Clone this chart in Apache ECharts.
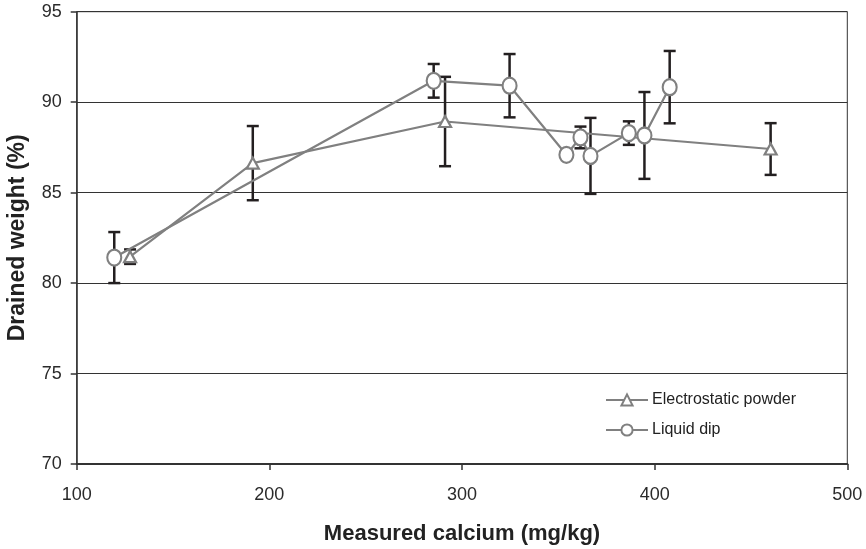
<!DOCTYPE html>
<html>
<head>
<meta charset="utf-8">
<script src="https://cdn.jsdelivr.net/npm/echarts@6/dist/echarts.min.js"></script>
<style>html,body{margin:0;padding:0;background:#fff}#c{width:866px;height:549px}</style>
</head>
<body>
<div id="c"></div>
<script>
// Electrostatic powder
var elecX = [127.7, 191.4, 291.2, 460.2];
var elecY = [81.46, 86.63, 88.93, 87.41];
var elecErr = [0.4, 2.05, 2.47, 1.43];
// Liquid dip
var liqX = [119.5, 285.3, 324.7, 354.2, 361.5, 366.7, 386.6, 394.7, 407.8];
var liqY = [81.41, 91.18, 90.91, 87.09, 88.05, 87.03, 88.29, 88.16, 90.83];
var liqErr = [1.41, 0.93, 1.75, 0, 0.6, 2.1, 0.65, 2.4, 2.0];

var seriesNames = ['Electrostatic powder', 'Liquid dip'];
var xTitle = 'Measured calcium (mg/kg)';
var yTitle = 'Drained weight (%)';

function pairs(xs, ys) { return xs.map(function (x, i) { return [x, ys[i]]; }); }
function errData(xs, ys, es) {
  var out = [];
  xs.forEach(function (x, i) { if (es[i] > 0) out.push([x, ys[i] - es[i], ys[i] + es[i]]); });
  return out;
}
function renderErr(params, api) {
  var x = api.value(0);
  var lo = api.coord([x, api.value(1)]);
  var hi = api.coord([x, api.value(2)]);
  var hw = 6;
  var st = { stroke: '#231f20', lineWidth: 2.5 };
  return {
    type: 'group',
    children: [
      { type: 'line', shape: { x1: lo[0], y1: lo[1], x2: hi[0], y2: hi[1] }, style: st },
      { type: 'line', shape: { x1: lo[0] - hw, y1: lo[1], x2: lo[0] + hw, y2: lo[1] }, style: st },
      { type: 'line', shape: { x1: hi[0] - hw, y1: hi[1], x2: hi[0] + hw, y2: hi[1] }, style: st }
    ]
  };
}

var gray = '#808080';
var chart = echarts.init(document.getElementById('c'), null, { renderer: 'canvas' });
chart.setOption({
  animation: false,
  backgroundColor: '#fff',
  textStyle: { fontFamily: 'Liberation Sans, Arial, sans-serif' },
  grid: { left: 76.7, right: 18.7, top: 11.7, bottom: 85, show: true, borderColor: '#333', borderWidth: 1, outerBoundsMode: 'none', containLabel: false },
  legend: {
    orient: 'vertical', left: 605, top: 392, itemGap: 14, padding: 0,
    itemWidth: 42, itemHeight: 14,
    data: seriesNames,
    textStyle: { fontSize: 16, color: '#222', padding: [0, 0, 0, -1] }
  },
  xAxis: {
    type: 'value', min: 100, max: 500, interval: 100,
    name: xTitle, nameLocation: 'middle', nameGap: 59,
    nameTextStyle: { fontSize: 22, fontWeight: 'bold', color: '#222' },
    axisLine: { show: true, lineStyle: { color: '#333', width: 2 } },
    axisTick: { show: true, length: 6, lineStyle: { color: '#333', width: 1.5 } },
    axisLabel: { fontSize: 18, color: '#2a2a2a', margin: 22 },
    splitLine: { show: false }
  },
  yAxis: {
    type: 'value', min: 70, max: 95, interval: 5,
    name: yTitle, nameLocation: 'middle', nameGap: 48,
    nameTextStyle: { fontSize: 23, fontWeight: 'bold', color: '#222' },
    axisLine: { show: true, lineStyle: { color: '#333', width: 1.5 } },
    axisTick: { show: true, length: 6, lineStyle: { color: '#333', width: 1.5 } },
    axisLabel: { fontSize: 18, color: '#2a2a2a', margin: 15 },
    splitLine: { show: true, lineStyle: { color: '#333', width: 1.2 } }
  },
  series: [
    {
      type: 'custom', name: 'errE', renderItem: renderErr, z: 1,
      data: errData(elecX, elecY, elecErr), encode: { x: 0, y: [1, 2] }
    },
    {
      type: 'custom', name: 'errL', renderItem: renderErr, z: 1,
      data: errData(liqX, liqY, liqErr), encode: { x: 0, y: [1, 2] }
    },
    {
      name: seriesNames[0], type: 'line', z: 3,
      data: pairs(elecX, elecY),
      symbol: 'triangle', symbolSize: [12, 11],
      lineStyle: { color: gray, width: 2.2 },
      itemStyle: { color: '#fff', borderColor: gray, borderWidth: 2.2 }
    },
    {
      name: seriesNames[1], type: 'line', z: 3,
      data: pairs(liqX, liqY),
      symbol: 'circle', symbolSize: [14, 16],
      lineStyle: { color: gray, width: 2.2 },
      itemStyle: { color: '#fff', borderColor: gray, borderWidth: 2.2 }
    }
  ]
});
</script>
</body>
</html>
